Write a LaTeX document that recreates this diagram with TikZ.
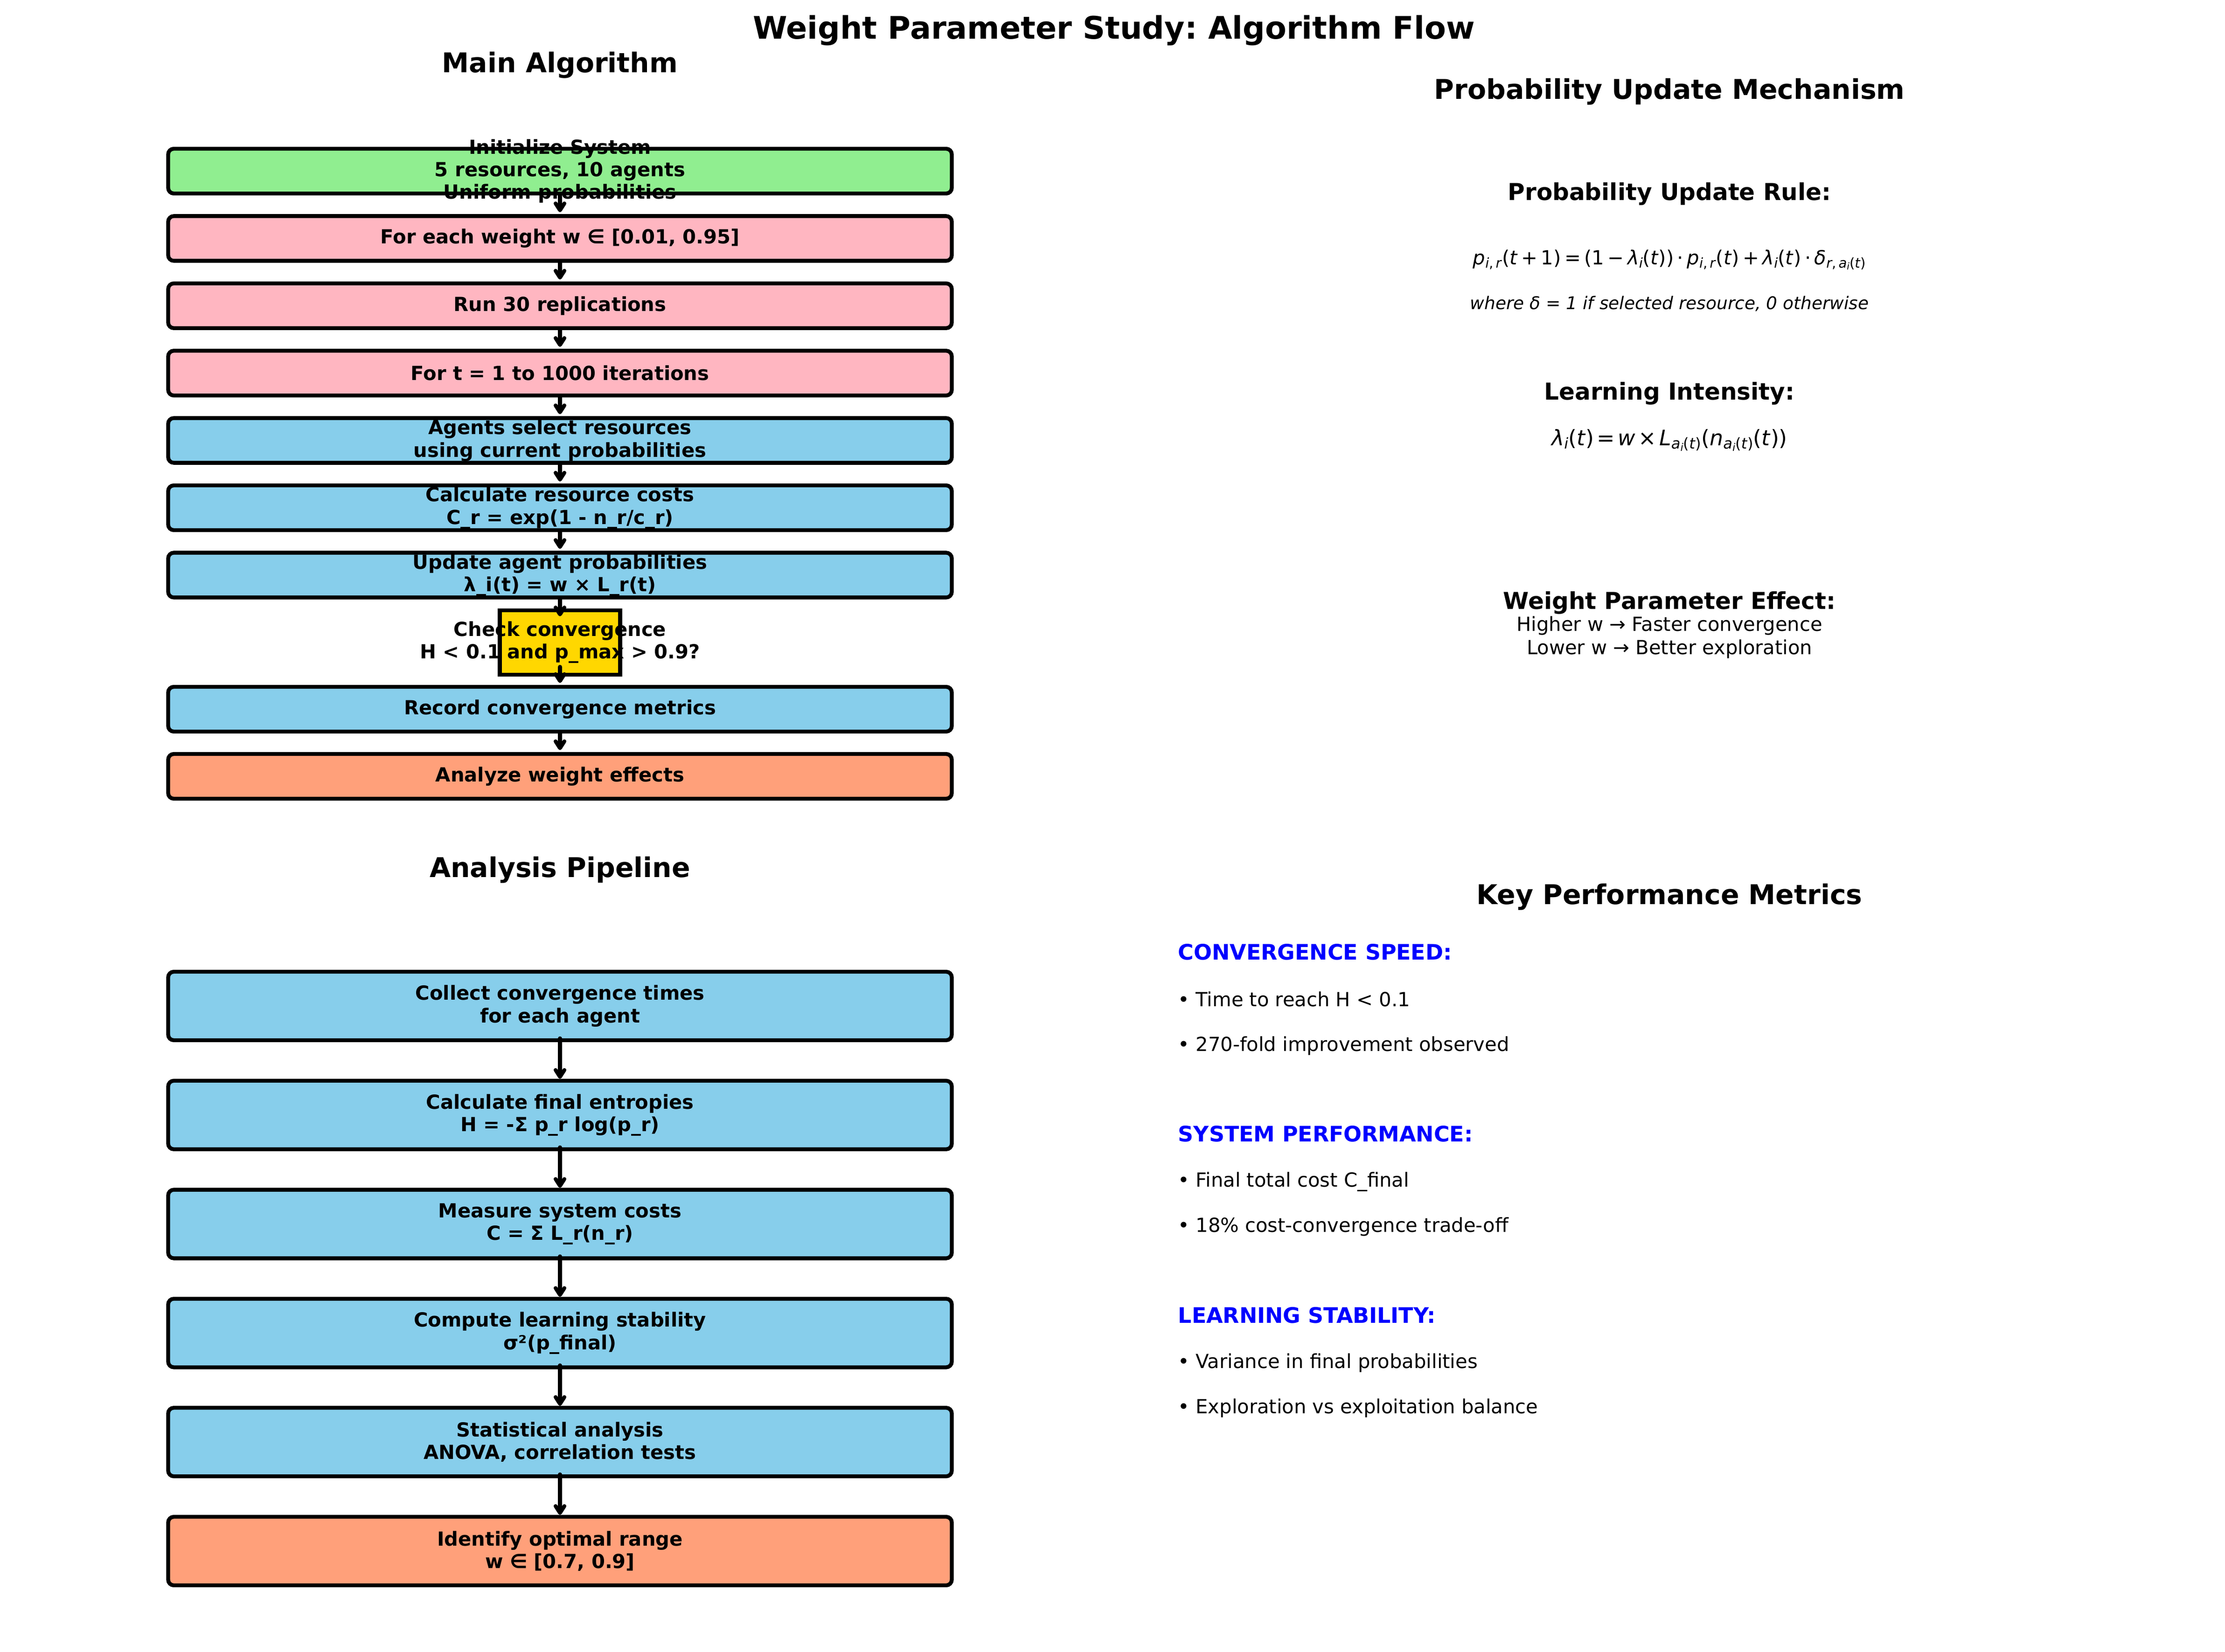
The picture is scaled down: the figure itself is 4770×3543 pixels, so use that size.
\documentclass[tikz,border=0pt]{standalone}
\usepackage{fontspec}
\setmainfont{DejaVu Sans}
\usetikzlibrary{arrows.meta}
\frenchspacing
\definecolor{cgreen}{HTML}{90EE90}
\definecolor{cpink}{HTML}{FFB6C1}
\definecolor{cblue}{HTML}{87CEEB}
\definecolor{corange}{HTML}{FFA07A}
\definecolor{cgold}{HTML}{FFD700}
\definecolor{cbluetext}{HTML}{0000FF}
\newcommand\boxfont{\fontsize{10}{11.6}\selectfont\bfseries}
% formula at 10pt
\newcommand\fsub[1]{\raisebox{-1.5pt}{\fontsize{7}{8}\selectfont #1}}
\newcommand\fssub[1]{\raisebox{-1.1pt}{\fontsize{4.9}{6}\selectfont #1}}
\newcommand\bop[1]{\hspace{0.18em}#1\hspace{0.18em}}
% formula at 11pt
\newcommand\gsub[1]{\raisebox{-1.65pt}{\fontsize{7.7}{8.8}\selectfont #1}}
\newcommand\gssub[1]{\raisebox{-1.2pt}{\fontsize{5.4}{6.6}\selectfont #1}}
\newcommand\gop[1]{\hspace{0.14em}#1\hspace{0.14em}}
\begin{document}
\begin{tikzpicture}[x=0.24pt,y=-0.24pt,
  mbox/.style={draw=black, line width=2pt, rounded corners=2.9pt, minimum width=403.2pt, minimum height=23.04pt, inner sep=0pt},
  lbox/.style={mbox, minimum height=35.28pt},
  chkbox/.style={draw=black, line width=2pt, fill=cgold, minimum width=61.92pt, minimum height=33.12pt, inner sep=0pt},
  txt/.style={font=\boxfont, align=center, inner sep=0pt},
  arr/.style={line width=2pt, line cap=round, -{Straight Barb[length=3.5pt,width=4.5pt,round]}},
  ttl/.style={anchor=base, inner sep=0pt, font=\fontsize{16}{19}\selectfont\bfseries},
  sttl/.style={anchor=base, inner sep=0pt, font=\fontsize{14}{17}\selectfont\bfseries},
  hd/.style={anchor=base, inner sep=0pt, font=\fontsize{12}{14}\selectfont\bfseries},
  plain/.style={anchor=base, inner sep=0pt, font=\fontsize{10}{12}\selectfont},
  mhd/.style={anchor=base west, inner sep=0pt, text=cbluetext, font=\fontsize{11}{13}\selectfont\bfseries},
  bul/.style={anchor=base west, inner sep=0pt, font=\fontsize{10}{12}\selectfont}]
\fill[white] (0,0) rectangle (4770,3543);
\useasboundingbox (0,0) rectangle (4770,3543);

% titles
\node[ttl] (title) at (2388,84) {Weight Parameter Study: Algorithm Flow};
\node[sttl] (mainttl) at (1200.5,156) {Main Algorithm};
\node[sttl] (pipettl) at (1200.5,1881) {Analysis Pipeline};
\node[sttl] (probttl) at (3579,213) {Probability Update Mechanism};
\node[sttl] (kpittl) at (3579,1939) {Key Performance Metrics};

% main algorithm boxes
\node[mbox, fill=cgreen] (b1) at (1200.5,367) {};
\node[mbox, fill=cpink] (b2) at (1200.5,511.4) {};
\node[mbox, fill=cpink] (b3) at (1200.5,655.8) {};
\node[mbox, fill=cpink] (b4) at (1200.5,800.2) {};
\node[mbox, fill=cblue] (b5) at (1200.5,944.6) {};
\node[mbox, fill=cblue] (b6) at (1200.5,1089) {};
\node[mbox, fill=cblue] (b7) at (1200.5,1233.4) {};
\node[chkbox] (chk) at (1200.5,1377.8) {};
\node[mbox, fill=cblue] (b9) at (1200.5,1521) {};
\node[mbox, fill=corange] (b10) at (1200.5,1665) {};

\node[txt] (t1) at (b1.center) {Initialize System\\5 resources, 10 agents\\Uniform probabilities};
\node[txt] (t2) at (b2.center) {For each weight w ∈ [0.01, 0.95]};
\node[txt] (t3) at (b3.center) {Run 30 replications};
\node[txt] (t4) at (b4.center) {For t = 1 to 1000 iterations};
\node[txt] (t5) at (b5.center) {Agents select resources\\using current probabilities};
\node[txt] (t6) at (b6.center) {Calculate resource costs\\C\_r = exp(1 - n\_r/c\_r)};
\node[txt] (t7) at (b7.center) {Update agent probabilities\\λ\_i(t) = w × L\_r(t)};
\node[txt] (t8) at (chk.center) {Check convergence\\H < 0.1 and p\_max > 0.9?};
\node[txt] (t9) at (b9.center) {Record convergence metrics};
\node[txt] (t10) at (b10.center) {Analyze weight effects};

\draw[arr] (b1.south) -- ([yshift=1pt]b2.north);
\draw[arr] (b2.south) -- ([yshift=1pt]b3.north);
\draw[arr] (b3.south) -- ([yshift=1pt]b4.north);
\draw[arr] (b4.south) -- ([yshift=1pt]b5.north);
\draw[arr] (b5.south) -- ([yshift=1pt]b6.north);
\draw[arr] (b6.south) -- ([yshift=1pt]b7.north);
\draw[arr] (b7.south) -- ([yshift=-4.1pt]chk.north);
\draw[arr] ([yshift=5pt]chk.south) -- ([yshift=1pt]b9.north);
\draw[arr] (b9.south) -- ([yshift=1pt]b10.north);

% analysis pipeline
\node[lbox, fill=cblue] (p1) at (1200.5,2157.5) {};
\node[lbox, fill=cblue] (p2) at (1200.5,2391.3) {};
\node[lbox, fill=cblue] (p3) at (1200.5,2625.1) {};
\node[lbox, fill=cblue] (p4) at (1200.5,2858.9) {};
\node[lbox, fill=cblue] (p5) at (1200.5,3092.7) {};
\node[lbox, fill=corange] (p6) at (1200.5,3326.5) {};

\node[txt] (q1) at (p1.center) {Collect convergence times\\for each agent};
\node[txt] (q2) at (p2.center) {Calculate final entropies\\H = -Σ p\_r log(p\_r)};
\node[txt] (q3) at (p3.center) {Measure system costs\\C = Σ L\_r(n\_r)};
\node[txt] (q4) at (p4.center) {Compute learning stability\\σ²(p\_final)};
\node[txt] (q5) at (p5.center) {Statistical analysis\\ANOVA, correlation tests};
\node[txt] (q6) at (p6.center) {Identify optimal range\\w ∈ [0.7, 0.9]};

\draw[arr] ([yshift=2pt]p1.south) -- (p2.north);
\draw[arr] ([yshift=2pt]p2.south) -- (p3.north);
\draw[arr] ([yshift=2pt]p3.south) -- (p4.north);
\draw[arr] ([yshift=2pt]p4.south) -- (p5.north);
\draw[arr] ([yshift=2pt]p5.south) -- (p6.north);

% probability update mechanism
\node[hd] (rulehd) at (3579,430) {Probability Update Rule:};
\node[plain] (f1) at (3579,568) {\textit{p}\fsub{\textit{i},\,\textit{r}}(\textit{t}\bop{+}1)\bop{=}(1\bop{−}\textit{λ}\fsub{\textit{i}}(\textit{t}))\bop{⋅}\textit{p}\fsub{\textit{i},\,\textit{r}}(\textit{t})\bop{+}\textit{λ}\fsub{\textit{i}}(\textit{t})\bop{⋅}\textit{δ}\fsub{\textit{r},\,\textit{a}\fssub{\textit{i}}(\textit{t})}};
\node[anchor=base, inner sep=0pt, font=\fontsize{9}{11}\selectfont\itshape] (where) at (3579,664) {where δ = 1 if selected resource, 0 otherwise};
\node[hd] (learnhd) at (3579,858) {Learning Intensity:};
\node[anchor=base, inner sep=0pt, font=\fontsize{11}{13}\selectfont] (f2) at (3579,956) {\textit{λ}\gsub{\textit{i}}(\textit{t})\gop{=}\textit{w}\gop{×}\textit{L}\gsub{\textit{a}\gssub{\textit{i}}(\textit{t})}(\textit{n}\gsub{\textit{a}\gssub{\textit{i}}(\textit{t})}(\textit{t}))};
\node[hd] (effhd) at (3579,1306) {Weight Parameter Effect:};
\node[plain] (eff1) at (3579,1353) {Higher w → Faster convergence};
\node[plain] (eff2) at (3579,1403) {Lower w → Better exploration};

% key performance metrics
\node[mhd] (m1) at (2525,2058) {CONVERGENCE SPEED:};
\node[bul] (m1a) at (2525,2158) {• Time to reach H < 0.1};
\node[bul] (m1b) at (2525,2254) {• 270-fold improvement observed};
\node[mhd] (m2) at (2525,2448) {SYSTEM PERFORMANCE:};
\node[bul] (m2a) at (2525,2545) {• Final total cost C\_final};
\node[bul] (m2b) at (2525,2642) {• 18\% cost-convergence trade-off};
\node[mhd] (m3) at (2525,2837) {LEARNING STABILITY:};
\node[bul] (m3a) at (2525,2934) {• Variance in final probabilities};
\node[bul] (m3b) at (2525,3031) {• Exploration vs exploitation balance};
\end{tikzpicture}
\end{document}
